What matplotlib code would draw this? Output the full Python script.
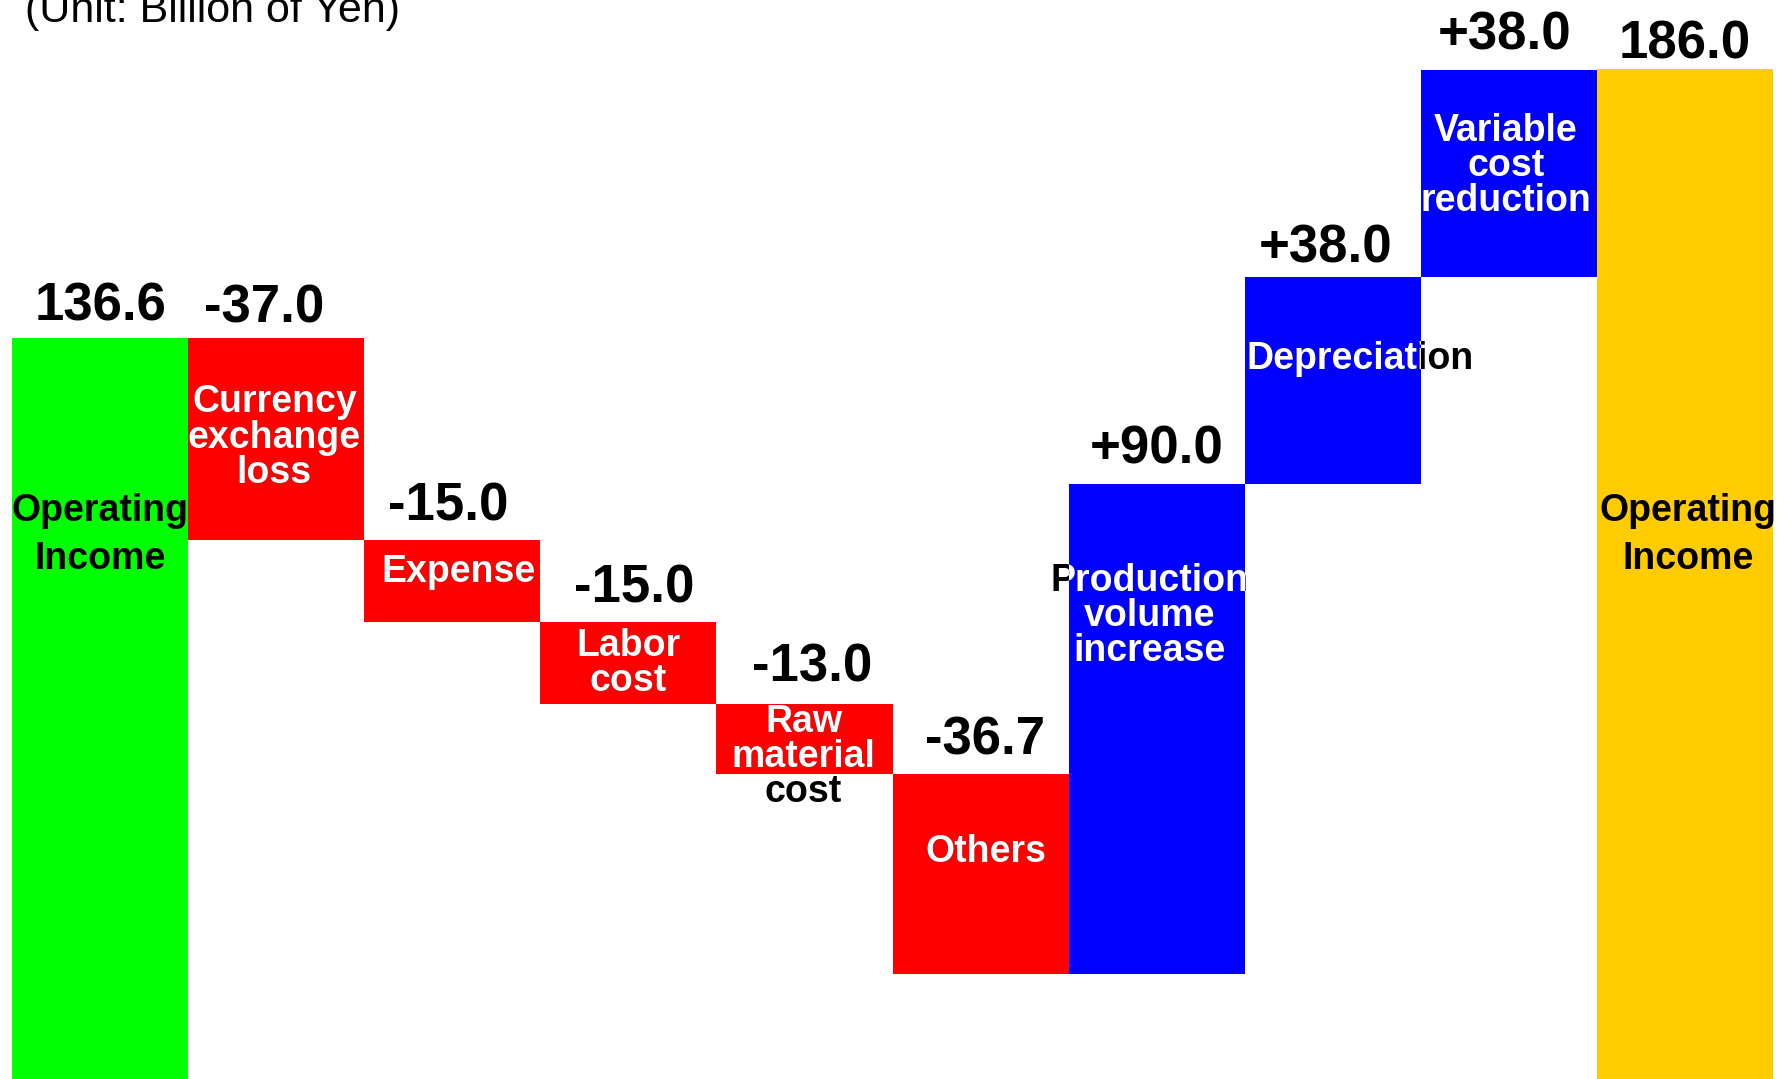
import matplotlib

matplotlib.use("Agg")
import matplotlib.pyplot as plt
import numpy as np
from matplotlib.transforms import TransformedBbox

plt.rcParams["font.family"] = ["Liberation Sans", "DejaVu Sans"]

# Operating income bridge, billion yen
START = 136.6
END = 186.0
FACTORS = [
    "Currency\nexchange\nloss",
    "Expense",
    "Labor\ncost",
    "Raw\nmaterial\ncost",
    "Others",
    "Production\nvolume\nincrease",
    "Depreciation",
    "Variable\ncost\nreduction",
]
DELTAS = [-37.0, -15.0, -15.0, -13.0, -36.7, 90.0, 38.0, 38.0]
TOTAL_LABEL = "Operating\nIncome"
UNIT = "(Unit: Billion of Yen)"

# label anchors (bar index units, value units) for the text inside each bar
LABEL_XY = [
    (0.498, 100.5),
    (1.488, 118.4),
    (2.536, 93.8),
    (3.50, 77.0),
    (4.495, 59.8),
    (5.531, 42.4),
    (6.462, 85.6),
    (7.659, 132.8),
    (8.486, 168.2),
    (9.521, 100.5),
]
# nudges (points) for the value labels above the bars
VALUE_NUDGE = [(0, 0), (-9, -1.6), (-3, 0.8), (4, 0.8), (5.5, 3),
               (3, 1.6), (0, 1.6), (-5, -2.5), (-2.5, 1.6), (0, -5.5)]

GREEN, RED, BLUE, GOLD = "#00ff00", "#ff0000", "#0000ff", "#ffcc00"

deltas = np.array(DELTAS)
running = START + np.concatenate([[0], np.cumsum(deltas)])
bottoms = np.concatenate([[0], np.where(deltas < 0, running[1:], running[:-1]), [0]])
heights = np.concatenate([[START], np.abs(deltas), [END]])
colors = [GREEN] + [RED if d < 0 else BLUE for d in deltas] + [GOLD]
values = [f"{START:.1f}"] + [f"{d:+.1f}" for d in deltas] + [f"{END:.1f}"]
names = [TOTAL_LABEL] + FACTORS + [TOTAL_LABEL]

fig = plt.figure(figsize=(17.85, 10.79), dpi=100)
ax = fig.add_axes([0, 0, 1, 1])
x = np.arange(len(heights))
bars = ax.bar(x, heights, bottom=bottoms, width=1.0, align="edge",
              color=colors, linewidth=0)

ax.set_xlim(-0.071, 10.071)
ax.set_ylim(0.7, 198.7)
ax.axis("off")

for i, b in enumerate(bars):
    top = b.get_y() + b.get_height()
    dx, dy = VALUE_NUDGE[i]
    ax.annotate(values[i], (i + 0.5, top), xytext=(dx, 13 + dy),
                textcoords="offset points", ha="center", va="baseline",
                fontsize=38, fontweight="bold", color="black")

    lx, ly = LABEL_XY[i]
    if colors[i] in (GREEN, GOLD):
        ax.text(lx, ly, names[i], ha="center", va="center", fontsize=27,
                fontweight="bold", color="black", linespacing=1.42)
    else:
        # white where the label sits on its bar, black where it spills onto the page
        ax.text(lx, ly, names[i], ha="center", va="center", fontsize=27,
                fontweight="bold", color="black", linespacing=0.97)
        t = ax.text(lx, ly, names[i], ha="center", va="center", fontsize=27,
                    fontweight="bold", color="white", linespacing=0.97)
        t.set_clip_box(TransformedBbox(b.get_bbox(), ax.transData))
        t.set_clip_on(True)

fig.text(25 / 1785, 1 - 22 / 1079, UNIT, ha="left", va="baseline",
         fontsize=31, color="black")

fig.savefig("out.png", dpi=100)
